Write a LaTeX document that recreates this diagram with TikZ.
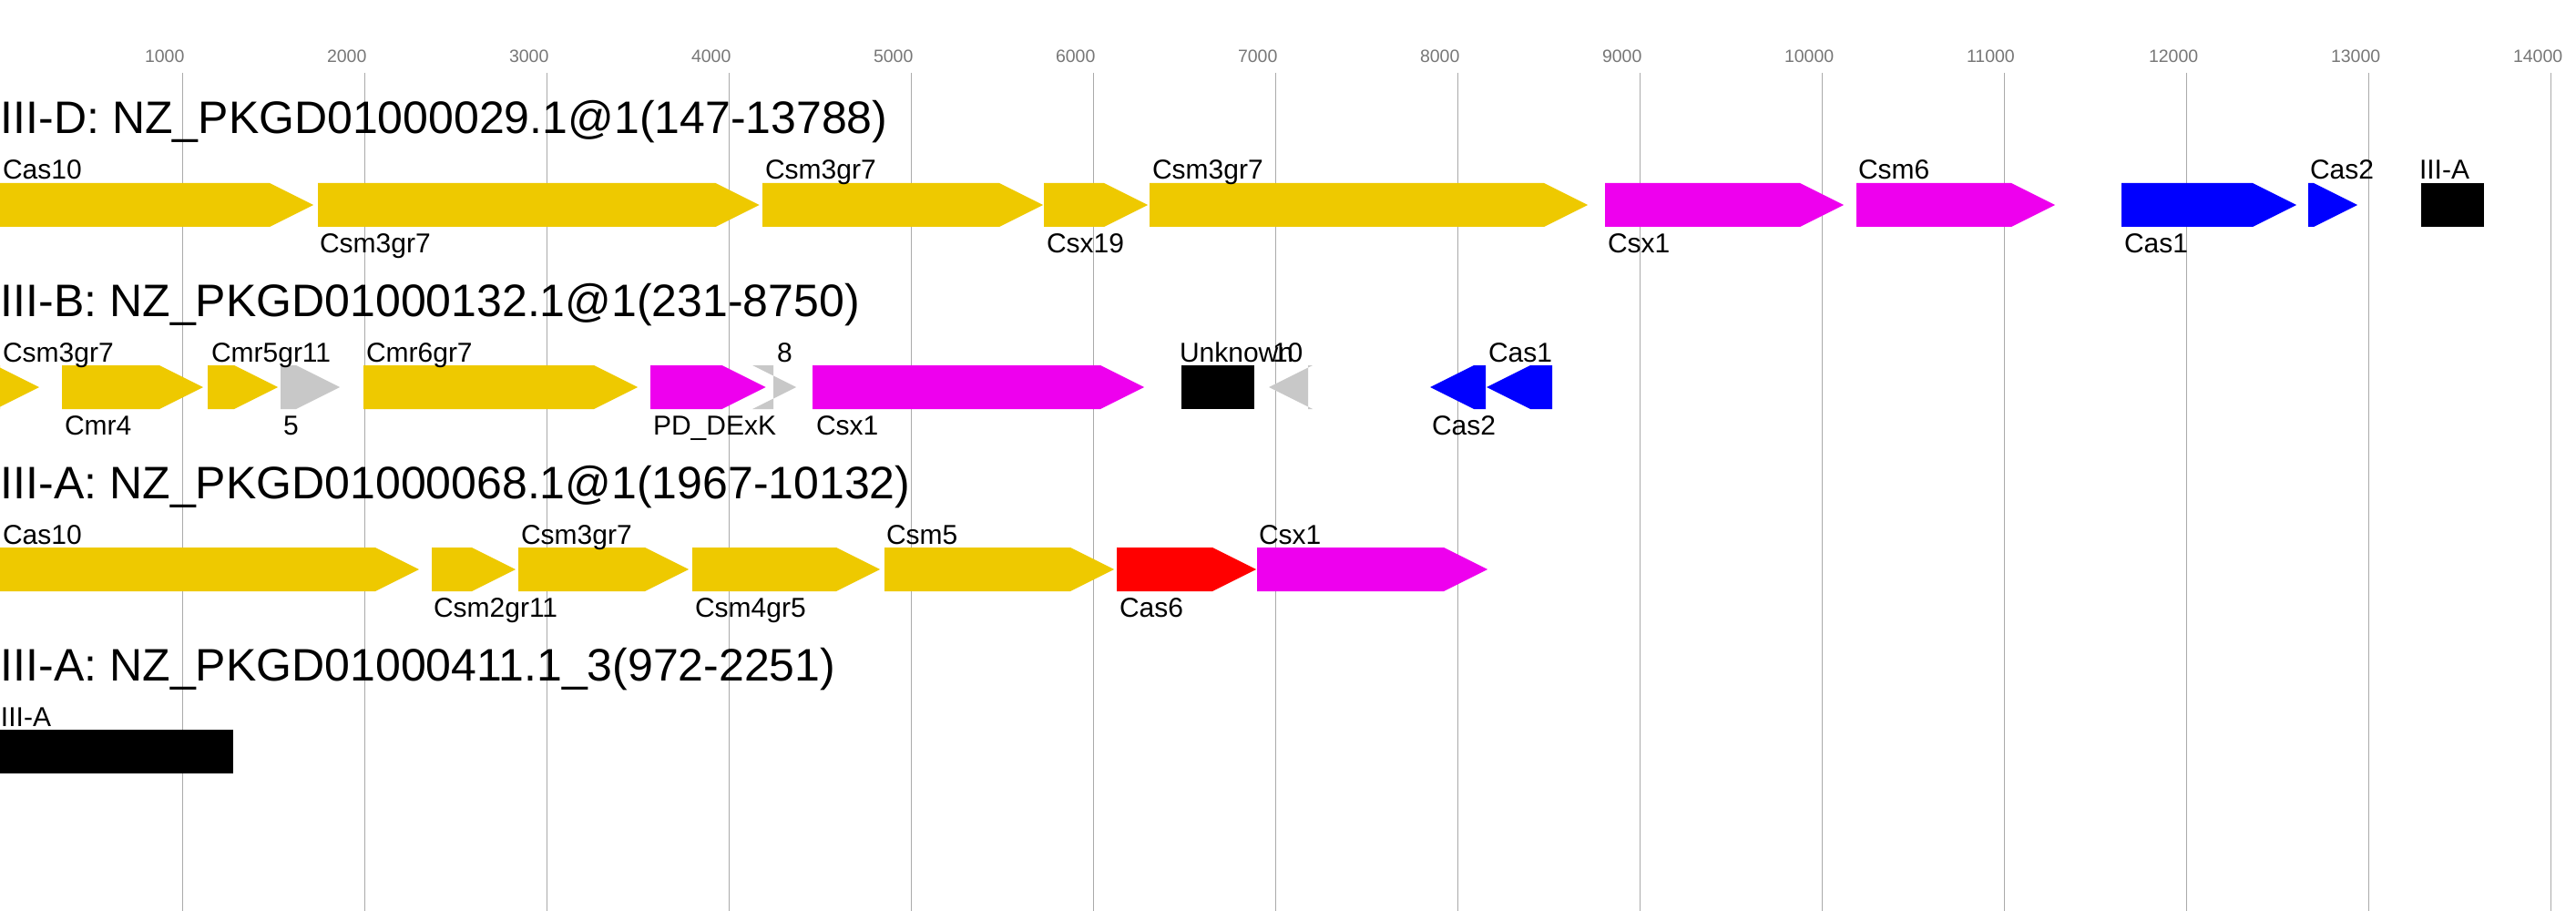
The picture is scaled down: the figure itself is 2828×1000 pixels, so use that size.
\documentclass[tikz,border=0pt]{standalone}
\usepackage{fontspec}
\setmainfont{Liberation Sans}
\definecolor{gy}{HTML}{EEC900}
\definecolor{mg}{HTML}{EE00EE}
\definecolor{bl}{HTML}{0000FF}
\definecolor{rd}{HTML}{FF0000}
\definecolor{gr}{HTML}{C8C8C8}
\definecolor{gridc}{HTML}{AAAAAA}
\definecolor{tickc}{HTML}{777777}
% forward gene: start x, end x, centre y, colour
\newcommand\fgene[4]{\fill[#4,even odd rule] (#1,#3-24) -- (#2-48,#3-24) -- (#2,#3) -- (#2-48,#3+24) -- (#1,#3+24) -- cycle;}
% reverse gene: tip x, right x, centre y, colour
\newcommand\rgene[4]{\fill[#4,even odd rule] (#2,#3-24) -- (#1+48,#3-24) -- (#1,#3) -- (#1+48,#3+24) -- (#2,#3+24) -- cycle;}
\newcommand\blk[3]{\fill[black] (#1,#3-24) rectangle (#2,#3+24);}
\tikzset{
  lab/.style={anchor=base west,inner sep=0pt,outer sep=0pt,text=black,font=\fontsize{30}{36}\selectfont},
  ttl/.style={anchor=base west,inner sep=0pt,outer sep=0pt,text=black,font=\fontsize{50}{60}\selectfont},
  tck/.style={anchor=base west,inner sep=0pt,outer sep=0pt,text=tickc,font=\fontsize{19.5}{23}\selectfont},
  gridline/.style={draw=gridc,line width=1pt}
}
\begin{document}
\begin{tikzpicture}[x=1pt,y=-1pt]
\useasboundingbox (0,0) rectangle (2828,1000);
\fill[white] (0,0) rectangle (2828,1000);
\clip (0,0) rectangle (2828,1000);
% grid and scale
\foreach \i in {1,...,14}{
  \draw[gridline] (200*\i,80) -- (200*\i,1000);
  \node[tck] (t\i) at (200*\i-41,69) {\i000};
}
% ---------- row 1 ----------
\node[ttl] (title1) at (1,147) {III-D: NZ\_PKGD01000029.1@1(147-13788)};
\fgene{0}{344}{225}{gy}
\fgene{349}{833.5}{225}{gy}
\fgene{837}{1145}{225}{gy}
\fgene{1146}{1260}{225}{gy}
\fgene{1262}{1743}{225}{gy}
\fgene{1762}{2024}{225}{mg}
\fgene{2038}{2256}{225}{mg}
\fgene{2329}{2521}{225}{bl}
\fgene{2534}{2588}{225}{bl}
\blk{2658}{2727}{225}
\node[lab] (a1) at (3,197) {Cas10};
\node[lab] (a2) at (351,277) {Csm3gr7};
\node[lab] (a3) at (840,197) {Csm3gr7};
\node[lab] (a4) at (1149,277) {Csx19};
\node[lab] (a5) at (1265,197) {Csm3gr7};
\node[lab] (a6) at (1765,277) {Csx1};
\node[lab] (a7) at (2040,197) {Csm6};
\node[lab] (a8) at (2332,277) {Cas1};
\node[lab] (a9) at (2536,197) {Cas2};
\node[lab] (a10) at (2656,197) {III-A};
% ---------- row 2 ----------
\node[ttl] (title2) at (1,347) {III-B: NZ\_PKGD01000132.1@1(231-8750)};
\fgene{0}{43}{425}{gy}
\fgene{68}{223}{425}{gy}
\fgene{228}{305}{425}{gy}
\fgene{308}{373}{425}{gr}
\fgene{399}{700}{425}{gy}
\fgene{849}{874}{425}{gr}
\fgene{714}{840.5}{425}{mg}
\fgene{892}{1256}{425}{mg}
\blk{1297}{1377}{425}
\rgene{1393}{1436}{425}{gr}
\rgene{1570}{1631}{425}{bl}
\rgene{1632}{1704}{425}{bl}
\node[lab] (b1) at (3,397) {Csm3gr7};
\node[lab] (b2) at (71,477) {Cmr4};
\node[lab] (b3) at (232,397) {Cmr5gr11};
\node[lab] (b4) at (311,477) {5};
\node[lab] (b5) at (402,397) {Cmr6gr7};
\node[lab] (b6) at (717,477) {PD\_DExK};
\node[lab] (b7) at (853,397) {8};
\node[lab] (b8) at (896,477) {Csx1};
\node[lab] (b9) at (1295,397) {Unknown};
\node[lab] (b10) at (1397,397) {10};
\node[lab] (b11) at (1572,477) {Cas2};
\node[lab] (b12) at (1634,397) {Cas1};
% ---------- row 3 ----------
\node[ttl] (title3) at (1,547) {III-A: NZ\_PKGD01000068.1@1(1967-10132)};
\fgene{0}{460}{625}{gy}
\fgene{474}{566}{625}{gy}
\fgene{569}{756}{625}{gy}
\fgene{760}{966}{625}{gy}
\fgene{971}{1223}{625}{gy}
\fgene{1226}{1379}{625}{rd}
\fgene{1380}{1633}{625}{mg}
\node[lab] (c1) at (3,597) {Cas10};
\node[lab] (c2) at (476,677) {Csm2gr11};
\node[lab] (c3) at (572,597) {Csm3gr7};
\node[lab] (c4) at (763,677) {Csm4gr5};
\node[lab] (c5) at (973,597) {Csm5};
\node[lab] (c6) at (1229,677) {Cas6};
\node[lab] (c7) at (1382,597) {Csx1};
% ---------- row 4 ----------
\node[ttl] (title4) at (1,747) {III-A: NZ\_PKGD01000411.1\_3(972-2251)};
\blk{0}{256}{825}
\node[lab] (d1) at (1,797) {III-A};
\end{tikzpicture}
\end{document}
